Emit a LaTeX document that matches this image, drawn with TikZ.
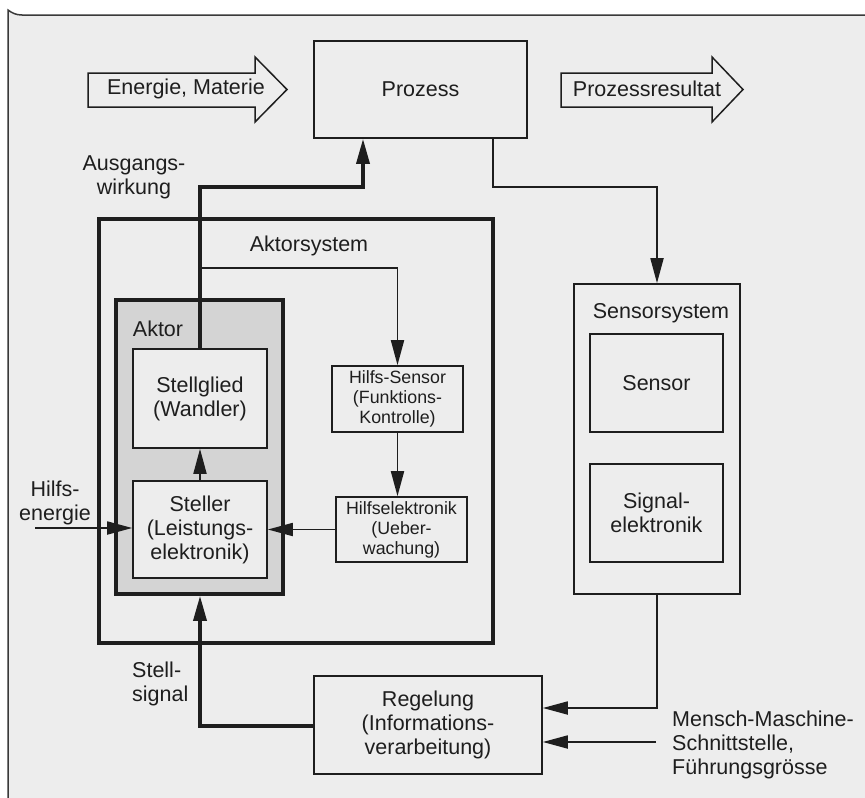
\documentclass[tikz,border=0pt]{standalone}
\usepackage{fontspec}
\setmainfont{Liberation Sans}
\usetikzlibrary{arrows.meta,calc}
\definecolor{bg}{HTML}{EDEDED}
\definecolor{ink}{HTML}{1E1E1E}
\definecolor{aktorfill}{HTML}{D4D4D4}
\definecolor{framecol}{HTML}{3A3A3A}
\begin{document}
\begin{tikzpicture}[x=1pt,y=-1pt,
  big/.style={font=\fontsize{21.5}{24}\selectfont, text=ink},
  small/.style={font=\fontsize{17.8}{20}\selectfont, text=ink},
  box/.style={draw=ink, line width=1.6pt, fill=bg, inner sep=0pt, align=center, big},
  hbox/.style={draw=ink, line width=1.6pt, fill=bg, inner sep=0pt, align=center, small},
  heavybox/.style={draw=ink, line width=3.6pt, inner sep=0pt},
  lbl/.style={inner sep=0pt, big},
  conn/.style={draw=ink, line width=1.8pt},
  heavy/.style={draw=ink, line width=3.4pt},
  arr/.style={-{Triangle[length=25pt,width=13pt]}},
  blockarrow/.style={draw=ink, line width=1.5pt, fill=bg, line join=miter}
]
\useasboundingbox (0,0) rectangle (865,798);
\fill[white] (0,0) rectangle (865,798);
\fill[bg] (8,10) .. controls (12,13) and (16,15) .. (22,15) -- (865,15) -- (865,798) -- (8,798) -- cycle;
\draw[framecol, line width=1.5pt] (8,798) -- (8,10) .. controls (12,13) and (16,15) .. (22,15) -- (865,15);

% block arrows
\draw[blockarrow] (88,73) -- (255,73) -- (255,57) -- (287,89.5) -- (255,122) -- (255,107) -- (88,107) -- cycle;
\node[lbl] (energie) at (186,89) {Energie, Materie};
\draw[blockarrow] (561,73) -- (712,73) -- (712,57) -- (743,89.5) -- (712,122) -- (712,107) -- (561,107) -- cycle;
\node[lbl] (resultat) at (647,89) {Prozessresultat};

% Prozess
\node[box, minimum width=213pt, minimum height=97pt] (prozess) at (420.5,89.5) {Prozess};

% Aktorsystem
\node[heavybox, minimum width=394pt, minimum height=424pt] (aktsys) at (296,431) {};
\node[lbl] (aktsyslbl) at (309,246) {Aktorsystem};
\node[heavybox, fill=aktorfill, minimum width=167pt, minimum height=294pt] (aktor) at (199.5,447) {};
\node[lbl] (aktorlbl) at (158,329) {Aktor};
\node[box, minimum width=134pt, minimum height=99pt] (stellglied) at (200,398.5) {Stellglied\\(Wandler)};
\node[box, minimum width=134pt, minimum height=97pt] (steller) at (200,529.5) {Steller\\(Leistungs-\\elektronik)};
\node[hbox, minimum width=131pt, minimum height=66pt] (hsensor) at (397.5,399) {Hilfs-Sensor\\(Funktions-\\Kontrolle)};
\node[hbox, minimum width=131pt, minimum height=65pt] (helek) at (401.5,529.5) {Hilfselektronik\\(Ueber-\\wachung)};

% Sensorsystem
\node[box, minimum width=166pt, minimum height=310pt] (sensys) at (657,439) {};
\node[lbl] (sensyslbl) at (661,313) {Sensorsystem};
\node[box, minimum width=133pt, minimum height=98pt] (sensor) at (656.5,383) {Sensor};
\node[box, minimum width=133pt, minimum height=98pt] (signal) at (656.5,513) {Signal-\\elektronik};

% Regelung
\node[box, minimum width=228pt, minimum height=98pt] (regel) at (428,725) {Regelung\\(Informations-\\verarbeitung)};

% labels
\node[lbl, align=center] (ausg) at (134,177) {Ausgangs-\\wirkung};
\node[lbl, align=center] (hilfsen) at (55,503) {Hilfs-\\energie};
\node[lbl, align=left, anchor=west] (stellsig) at (132,684) {Stell-\\signal};
\node[lbl, align=left, anchor=west] (mensch) at (672,745) {Mensch-Maschine-\\Schnittstelle,\\Führungsgrösse};

% coordinates
\coordinate (k1) at (363,187);
\coordinate (br) at (200,268);
\coordinate (k2) at (493,187);
\coordinate (k3) at (657,708);
\coordinate (mm) at (656,742);
\coordinate (k4) at (200,726);
\coordinate (he) at (35,528);

% connectors
\draw[heavy, arr] (stellglied.north) |- (k1) -- (k1 |- prozess.south);
\draw[conn, arr] (br) -| (hsensor.north);
\draw[conn, arr] (k2 |- prozess.south) -- (k2) -| (sensys.north);
\draw[conn, arr] (sensys.south) -- (k3) -- (k3 -| regel.east);
\draw[conn, arr] (mm) -- (mm -| regel.east);
\draw[heavy, arr] (k4 -| regel.west) -- (k4) -- (k4 |- aktor.south);
\draw[conn, arr] (he) -- (he -| steller.west);
\draw[conn, arr] (helek.west) -- (steller.east);
\draw[conn, arr] (steller.north) -- (stellglied.south);
\draw[conn, arr] (hsensor.south) -- (hsensor.south |- helek.north);
\end{tikzpicture}
\end{document}
